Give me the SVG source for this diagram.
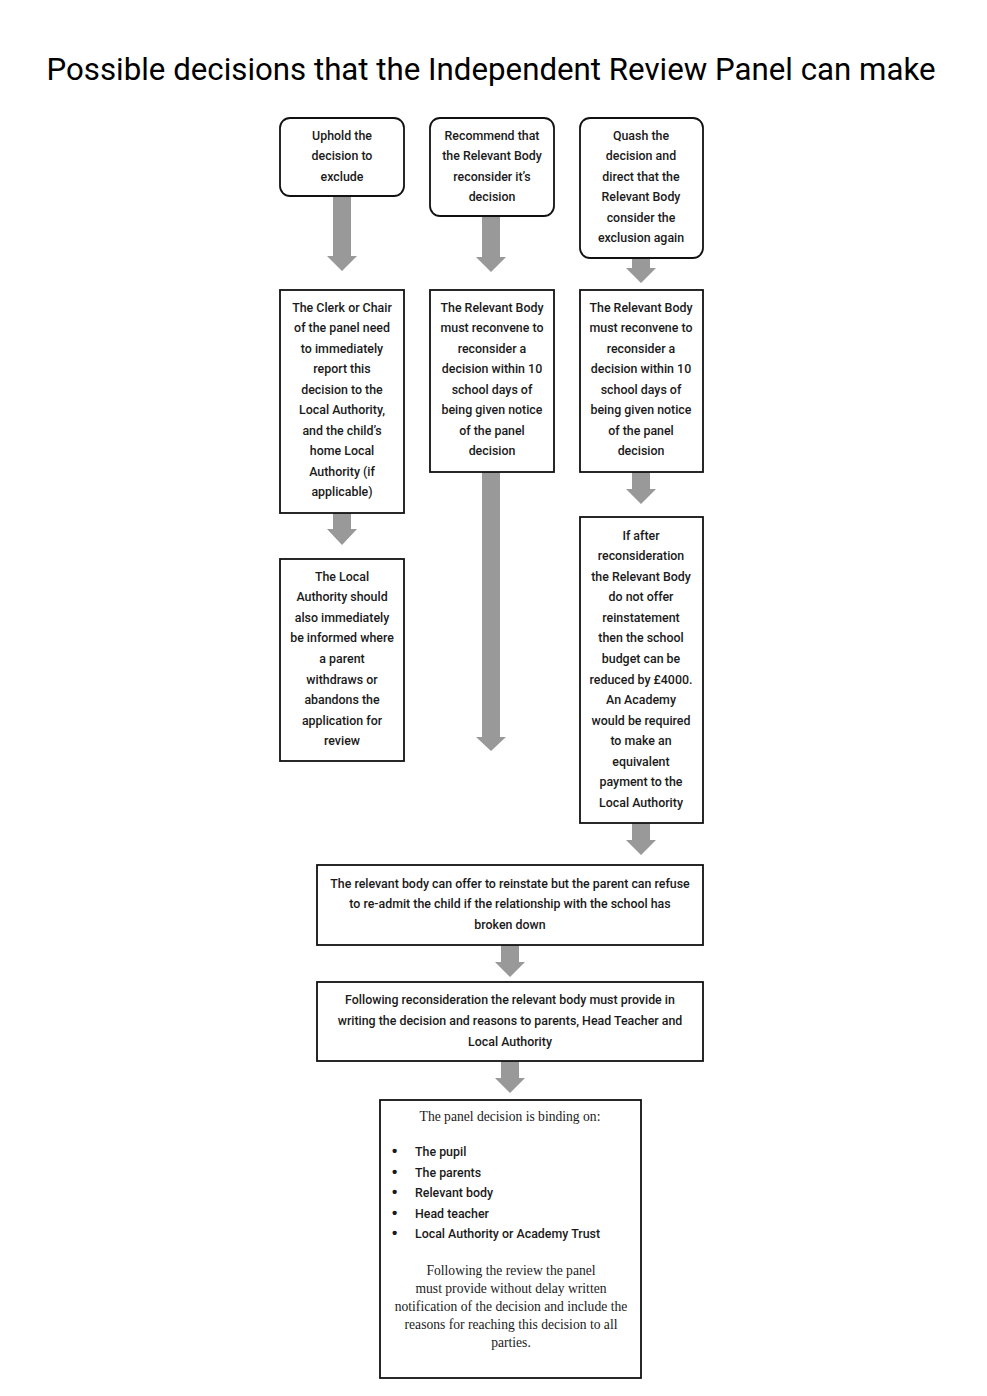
<svg xmlns="http://www.w3.org/2000/svg" width="987" height="1396" viewBox="0 0 987 1396">
<style>
.bg{fill:#fff}
.box{fill:#fff;stroke:#111;stroke-width:1.8}
.t{font-family:Roboto,"Liberation Sans",sans-serif;font-weight:500;font-size:12.4px;fill:#1a1a1a;text-anchor:middle}
.tl{font-family:Roboto,"Liberation Sans",sans-serif;font-weight:500;font-size:12.4px;fill:#1a1a1a}
.b{font-family:"Liberation Sans",sans-serif;font-weight:700;font-size:15px;fill:#1a1a1a}
.s{font-family:"Liberation Serif","Noto Serif",serif;font-size:13.6px;fill:#1a1a1a;text-anchor:middle}
.title{font-family:Roboto,"Open Sans",sans-serif;font-size:31px;fill:#000;text-anchor:middle}
.arr{fill:#999}
</style>
<rect class="bg" x="0" y="0" width="987" height="1396"/>
<text class="title" x="491" y="80" textLength="889" lengthAdjust="spacingAndGlyphs">Possible decisions that the Independent Review Panel can make</text>

<g id="connectors">
<path class="arr" d="M333,196H351V256H357L342,271L327,256H333Z"/>
<path class="arr" d="M482,216H500V257H506L491,272L476,257H482Z"/>
<path class="arr" d="M632,258H650V268H656L641,283L626,268H632Z"/>
<path class="arr" d="M333,513H351V529H357L342,545L327,529H333Z"/>
<path class="arr" d="M482,472H500V737H506L491,751L476,737H482Z"/>
<path class="arr" d="M632,472H650V489H656L641,504L626,489H632Z"/>
<path class="arr" d="M632,823H650V840H656L641,855L626,840H632Z"/>
<path class="arr" d="M501,945H519V962H525L510,977L495,962H501Z"/>
<path class="arr" d="M501,1061H519V1078H525L510,1093L495,1078H501Z"/>
</g>

<g id="uphold">
<rect class="box" x="280" y="118" width="124" height="78" rx="10"/>
<text class="t"><tspan x="342" y="140">Uphold the</tspan><tspan x="342" y="160">decision to</tspan><tspan x="342" y="181">exclude</tspan></text>
</g>
<g id="recommend">
<rect class="box" x="430" y="118" width="124" height="98" rx="10"/>
<text class="t"><tspan x="492" y="140">Recommend that</tspan><tspan x="492" y="160">the Relevant Body</tspan><tspan x="492" y="181">reconsider it’s</tspan><tspan x="492" y="201">decision</tspan></text>
</g>
<g id="quash">
<rect class="box" x="580" y="118" width="123" height="140" rx="10"/>
<text class="t"><tspan x="641" y="140">Quash the</tspan><tspan x="641" y="160">decision and</tspan><tspan x="641" y="181">direct that the</tspan><tspan x="641" y="201">Relevant Body</tspan><tspan x="641" y="222">consider the</tspan><tspan x="641" y="242">exclusion again</tspan></text>
</g>

<g id="clerk">
<rect class="box" x="280" y="290" width="124" height="223"/>
<text class="t"><tspan x="342" y="312">The Clerk or Chair</tspan><tspan x="342" y="332">of the panel need</tspan><tspan x="342" y="353">to immediately</tspan><tspan x="342" y="373">report this</tspan><tspan x="342" y="394">decision to the</tspan><tspan x="342" y="414">Local Authority,</tspan><tspan x="342" y="435">and the child’s</tspan><tspan x="342" y="455">home Local</tspan><tspan x="342" y="476">Authority (if</tspan><tspan x="342" y="496">applicable)</tspan></text>
</g>
<g id="reconvene1">
<rect class="box" x="430" y="290" width="124" height="182"/>
<text class="t"><tspan x="492" y="312">The Relevant Body</tspan><tspan x="492" y="332">must reconvene to</tspan><tspan x="492" y="353">reconsider a</tspan><tspan x="492" y="373">decision within 10</tspan><tspan x="492" y="394">school days of</tspan><tspan x="492" y="414">being given notice</tspan><tspan x="492" y="435">of the panel</tspan><tspan x="492" y="455">decision</tspan></text>
</g>
<g id="reconvene2">
<rect class="box" x="580" y="290" width="123" height="182"/>
<text class="t"><tspan x="641" y="312">The Relevant Body</tspan><tspan x="641" y="332">must reconvene to</tspan><tspan x="641" y="353">reconsider a</tspan><tspan x="641" y="373">decision within 10</tspan><tspan x="641" y="394">school days of</tspan><tspan x="641" y="414">being given notice</tspan><tspan x="641" y="435">of the panel</tspan><tspan x="641" y="455">decision</tspan></text>
</g>

<g id="localauthority">
<rect class="box" x="280" y="559" width="124" height="202"/>
<text class="t"><tspan x="342" y="581">The Local</tspan><tspan x="342" y="601">Authority should</tspan><tspan x="342" y="622">also immediately</tspan><tspan x="342" y="642">be informed where</tspan><tspan x="342" y="663">a parent</tspan><tspan x="342" y="684">withdraws or</tspan><tspan x="342" y="704">abandons the</tspan><tspan x="342" y="725">application for</tspan><tspan x="342" y="745">review</tspan></text>
</g>
<g id="budget">
<rect class="box" x="580" y="517" width="123" height="306"/>
<text class="t"><tspan x="641" y="540">If after</tspan><tspan x="641" y="560">reconsideration</tspan><tspan x="641" y="581">the Relevant Body</tspan><tspan x="641" y="601">do not offer</tspan><tspan x="641" y="622">reinstatement</tspan><tspan x="641" y="642">then the school</tspan><tspan x="641" y="663">budget can be</tspan><tspan x="641" y="684">reduced by £4000.</tspan><tspan x="641" y="704">An Academy</tspan><tspan x="641" y="725">would be required</tspan><tspan x="641" y="745">to make an</tspan><tspan x="641" y="766">equivalent</tspan><tspan x="641" y="786">payment to the</tspan><tspan x="641" y="807">Local Authority</tspan></text>
</g>

<g id="reinstate">
<rect class="box" x="317" y="865" width="386" height="80"/>
<text class="t"><tspan x="510" y="888">The relevant body can offer to reinstate but the parent can refuse</tspan><tspan x="510" y="908">to re-admit the child if the relationship with the school has</tspan><tspan x="510" y="929">broken down</tspan></text>
</g>
<g id="writing">
<rect class="box" x="317" y="982" width="386" height="79"/>
<text class="t"><tspan x="510" y="1004">Following reconsideration the relevant body must provide in</tspan><tspan x="510" y="1025">writing the decision and reasons to parents, Head Teacher and</tspan><tspan x="510" y="1046">Local Authority</tspan></text>
</g>
<g id="binding">
<rect class="box" x="380" y="1100" width="261" height="278"/>
<text class="s" x="510" y="1121">The panel decision is binding on:</text>
<text class="b" x="392" y="1156">•</text><text class="tl" x="415" y="1156">The pupil</text>
<text class="b" x="392" y="1177">•</text><text class="tl" x="415" y="1177">The parents</text>
<text class="b" x="392" y="1197">•</text><text class="tl" x="415" y="1197">Relevant body</text>
<text class="b" x="392" y="1218">•</text><text class="tl" x="415" y="1218">Head teacher</text>
<text class="b" x="392" y="1238">•</text><text class="tl" x="415" y="1238">Local Authority or Academy Trust</text>
<text class="s"><tspan x="511" y="1275">Following the review the panel</tspan><tspan x="511" y="1293">must provide without delay written</tspan><tspan x="511" y="1311">notification of the decision and include the</tspan><tspan x="511" y="1329">reasons for reaching this decision to all</tspan><tspan x="511" y="1347">parties.</tspan></text>
</g>
</svg>
